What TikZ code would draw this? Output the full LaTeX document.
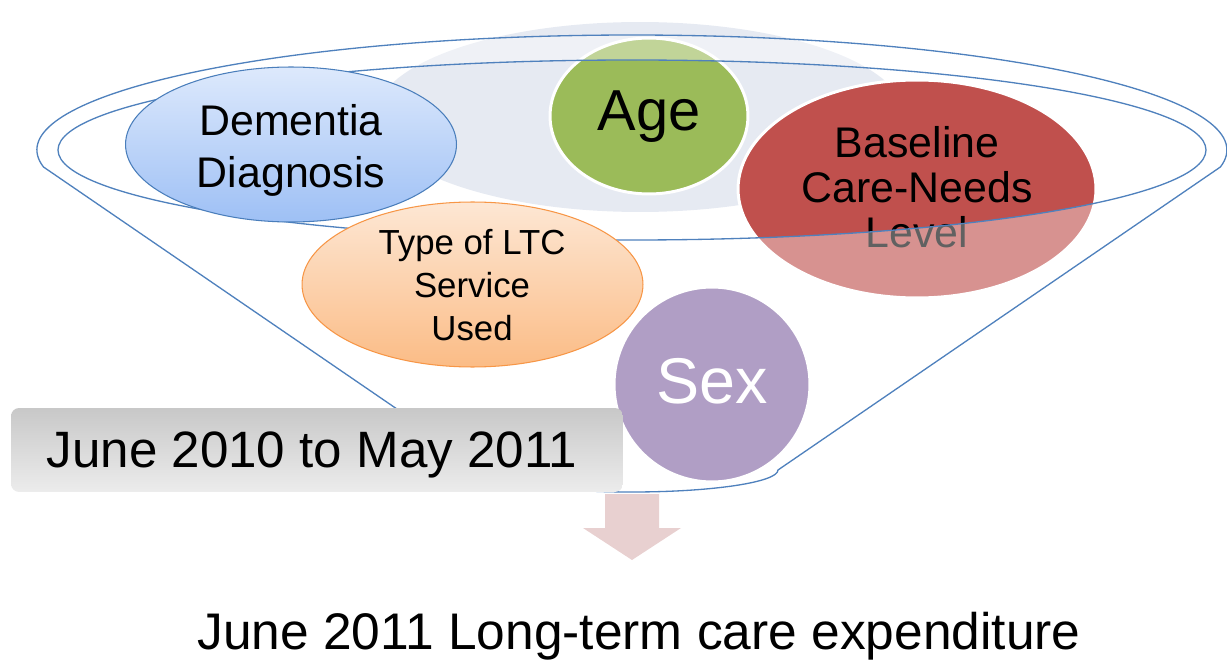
\documentclass[tikz,border=0pt]{standalone}
\usepackage{fontspec}
\setmainfont{Liberation Sans}
\usetikzlibrary{shapes.geometric}

\definecolor{rimblue}{HTML}{4F81BD}
\definecolor{halogray}{HTML}{E6EAF2}
\definecolor{agegreen}{HTML}{9BBB59}
\definecolor{carered}{HTML}{C0504D}
\definecolor{sexpurple}{HTML}{8064A2}
\definecolor{demtop}{HTML}{DDE9FC}
\definecolor{dembottom}{HTML}{9EC0F5}
\definecolor{demborder}{HTML}{4A7EBB}
\definecolor{ltctop}{HTML}{FDE7D4}
\definecolor{ltcbottom}{HTML}{FBBC86}
\definecolor{ltcborder}{HTML}{F79646}
\definecolor{boxtop}{HTML}{C8C8C8}
\definecolor{boxbottom}{HTML}{ECECEC}
\definecolor{arrowpink}{HTML}{E8D0D0}

\begin{document}
\begin{tikzpicture}[x=0.02cm, y=0.02cm,
  disc/.style={ellipse, inner sep=0pt, outer sep=0pt},
  solidfactor/.style={disc, fill=#1, draw=white, line width=1.7pt},
  gradfactor/.style={disc, line width=0.6pt},
  label/.style={inner sep=0pt, align=center, text=black},
  rim/.style={draw=rimblue, line width=0.75pt},
]
\useasboundingbox (0,0) rectangle (1227,660);

% soft backdrop behind the factors
\node[disc, fill=halogray, minimum width=10.6cm, minimum height=3.8cm] (halo) at (640,543) {};

% factors sitting inside the funnel
\node[solidfactor=agegreen, minimum width=3.96cm, minimum height=3.12cm] (age) at (649,544) {};
\node[label, font=\fontsize{32.9}{38}\selectfont] (agetext) at (649,543) {Age};

\node[solidfactor=carered, minimum width=7.16cm, minimum height=4.36cm] (baseline) at (917,471) {};
\node[label, font=\fontsize{24.4}{25.5}\selectfont] (baselinetext) at (917,473) {Baseline\\Care-Needs\\Level};

\node[solidfactor=sexpurple, minimum width=3.92cm, minimum height=3.9cm] (sex) at (712,275.5) {};
\node[label, text=white, font=\fontsize{36.8}{40}\selectfont] (sextext) at (712,279) {Sex};

% translucent body of the funnel
\fill[white, fill opacity=0.38, even odd rule]
  (43.5,493) arc[start angle=188.5, end angle=-8.5, x radius=595, y radius=115]
  -- (778,190) arc[start angle=0, end angle=-180, x radius=146, y radius=22]
  -- cycle
  (632,510) ellipse[x radius=574, y radius=90];

% funnel outline and inner rim
\draw[rim]
  (43.5,493) arc[start angle=188.5, end angle=-8.5, x radius=595, y radius=115]
  -- (778,190) arc[start angle=0, end angle=-180, x radius=146, y radius=22]
  -- cycle;
\draw[rim] (632,510) ellipse[x radius=574, y radius=90];

% factors in front of the funnel
\node[gradfactor, top color=demtop, bottom color=dembottom, draw=demborder,
      minimum width=6.62cm, minimum height=3.1cm] (dementia) at (291,515.5) {};
\node[label, font=\fontsize{24.4}{29.5}\selectfont] (dementiatext) at (291,509.5) {Dementia\\Diagnosis};

\node[gradfactor, top color=ltctop, bottom color=ltcbottom, draw=ltcborder,
      minimum width=6.82cm, minimum height=3.3cm] (ltc) at (472.5,375.5) {};
\node[label, font=\fontsize{19.8}{24.4}\selectfont] (ltctext) at (472,375) {Type of LTC\\Service\\Used};

% observation period
\node[rectangle, rounded corners=0.16cm, top color=boxtop, bottom color=boxbottom,
      minimum width=12.24cm, minimum height=1.68cm, inner sep=0pt] (period) at (317,210) {};
\node[label, anchor=base, font=\fontsize{29.1}{32}\selectfont] (periodtext) at (312,193) {June 2010 to May 2011};

% downward block arrow
\fill[arrowpink] (605,166) -- (659,166) -- (659,132) -- (681,132) -- (632,100)
  -- (583,132) -- (605,132) -- cycle;

% outcome
\node[label, anchor=base, font=\fontsize{29.3}{32}\selectfont] (outcome) at (639,11) {June 2011 Long-term care expenditure};
\end{tikzpicture}
\end{document}
